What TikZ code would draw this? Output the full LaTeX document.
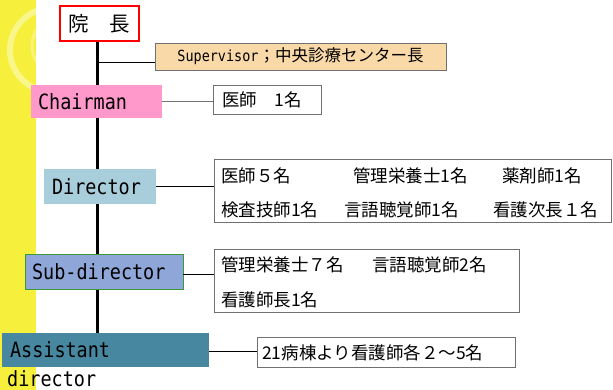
\documentclass[tikz,border=0pt]{standalone}
\usepackage{fontspec}
\setmainfont{Noto Sans CJK JP}
\newfontfamily\lat[FakeStretch=0.88]{DejaVu Sans Mono}
\usetikzlibrary{backgrounds}
\definecolor{yellowbg}{HTML}{F6F03C}
\definecolor{pinkc}{HTML}{FF99CC}
\definecolor{dirc}{HTML}{A9CEDB}
\definecolor{subc}{HTML}{8EA7D8}
\definecolor{subedge}{HTML}{3A9A3A}
\definecolor{asstc}{HTML}{4788A0}
\definecolor{supc}{HTML}{FAD9A9}
\definecolor{edgegray}{HTML}{707070}
\tikzset{
  rolebox/.style={inner sep=0pt, align=left, font=\lat\fontsize{21}{23}\selectfont},
  infobox/.style={draw=edgegray, line width=0.8pt, fill=white, inner sep=0pt},
  infotext/.style={anchor=west, inner sep=0pt, font=\fontsize{17.5}{20}\selectfont},
  conn/.style={line width=0.9pt, black},
  trunk/.style={line width=3pt, black}
}
\begin{document}
\begin{tikzpicture}[x=1pt,y=-1pt]
\useasboundingbox (0,0) rectangle (613,390);
\fill[yellowbg] (0,0) rectangle (36,390);
\begin{scope}
  \clip (0,0) rectangle (36,390);
  \draw[white, opacity=0.4, line width=6pt] (52,50) circle (42);
  \draw[white, opacity=0.3, line width=3pt] (62,46) circle (30);
\end{scope}

% role boxes
\node[draw=red, line width=1.6pt, fill=white, minimum width=79, minimum height=35, inner sep=0pt,
      font=\fontsize{20.5}{22}\selectfont] (head) at (99.5,23.5) {院　長};
\node[draw=edgegray, line width=0.8pt, fill=supc, minimum width=291, minimum height=27, inner sep=0pt,
      font=\fontsize{16.5}{18}\selectfont] (sup) at (300.5,56.5) {{\lat\fontsize{15.3}{18}\selectfont Supervisor}；中央診療センター長};
\node[rolebox, fill=pinkc, minimum width=131, minimum height=33, text width=117, inner xsep=7pt] (chair) at (96.5,101.5) {Chairman};
\node[rolebox, fill=dirc, minimum width=112, minimum height=35, text width=96, inner xsep=8pt] (dir) at (100,186.5) {Director};
\node[rolebox, fill=subc, draw=subedge, line width=0.9pt, minimum width=158, minimum height=35, text width=144, inner xsep=7pt] (sub) at (104,271.5) {Sub-director};
\node[rolebox, fill=asstc, minimum width=207, minimum height=34, text width=191, inner xsep=8pt] (asst) at (105.5,350) {Assistant};
\node[rolebox, anchor=base west] (asst2) at (7,386) {director};

% info boxes
\node[infobox, minimum width=108, minimum height=29] (d1) at (267,99.5) {};
\node[infotext] (t1) at (222,100) {医師　1名};
\node[infobox, minimum width=397, minimum height=63] (d2) at (412.5,190.5) {};
\node[infotext] (t21) at (221,176) {医師５名};
\node[infotext] (t22) at (353,176) {管理栄養士1名};
\node[infotext] (t23) at (502,176) {薬剤師1名};
\node[infotext] (t24) at (221,210) {検査技師1名};
\node[infotext] (t25) at (344,210) {言語聴覚師1名};
\node[infotext] (t26) at (493,210) {看護次長１名};
\node[infobox, minimum width=305, minimum height=63] (d3) at (366.5,280.5) {};
\node[infotext] (t31) at (221,265) {管理栄養士７名};
\node[infotext] (t32) at (372,265) {言語聴覚師2名};
\node[infotext] (t33) at (221,300) {看護師長1名};
\node[infobox, minimum width=258, minimum height=30] (d4) at (386,352) {};
\node[infotext] (t41) at (262,353) {21病棟より看護師各２～5名};

% connectors
\coordinate (j1) at (97.5,62);
\draw[conn] (j1) -- (j1 -| sup.west);
\draw[conn, edgegray] (chair.east) -- (chair.east -| d1.west);
\draw[conn] (dir.east) -- (dir.east -| d2.west);
\draw[conn] ([yshift=-2.5]sub.east) -- ([yshift=-2.5]sub.east -| d3.west);
\draw[conn] ([yshift=-1]asst.east) -- ([yshift=-1]asst.east -| d4.west);
\begin{scope}[on background layer]
  \coordinate (top) at (97.5,41);
  \draw[trunk] (top) -- (top |- asst.north);
\end{scope}
\end{tikzpicture}
\end{document}
